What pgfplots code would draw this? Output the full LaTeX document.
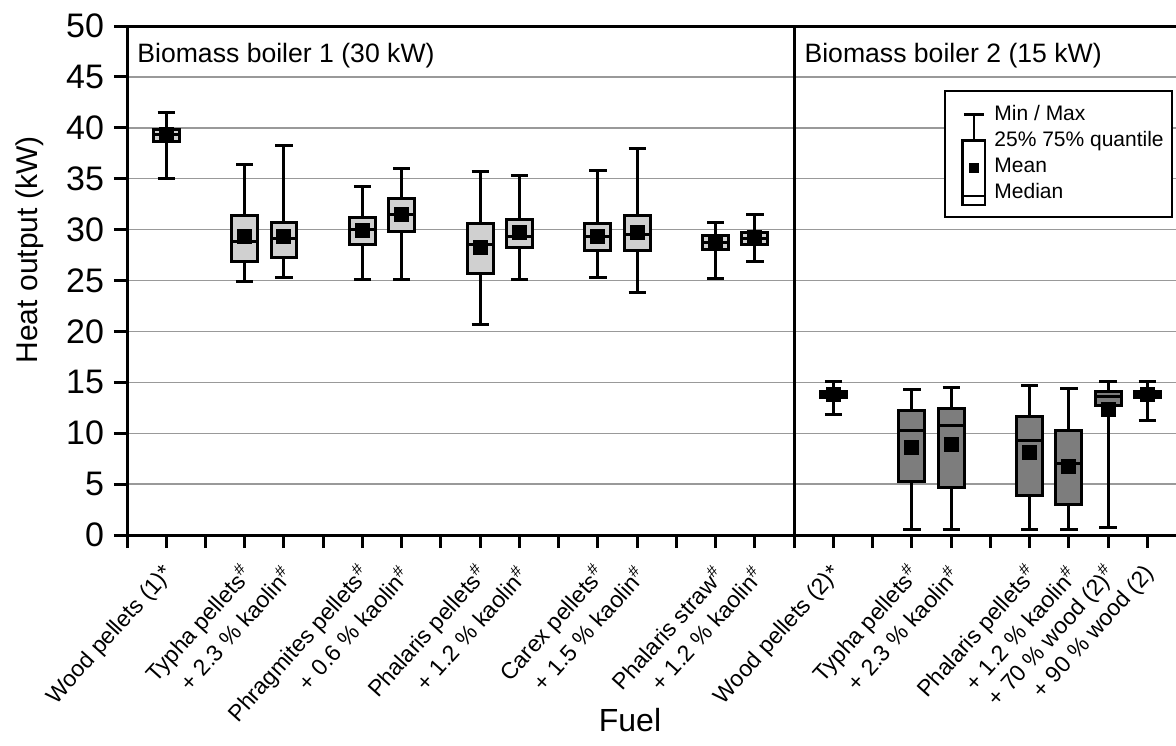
\documentclass[border=0pt]{standalone}
\usepackage{pgfplots}
\pgfplotsset{compat=1.18}
\usepgfplotslibrary{statistics}
\usepackage{fontspec}
\setmainfont{Liberation Sans}
\definecolor{boxlight}{RGB}{208,208,208}
\definecolor{boxdark}{RGB}{125,125,125}
\newcommand{\sh}{\textsuperscript{\#}}
\pgfplotsset{
  lbox/.style={black, line width=1.5pt, forget plot,
    boxplot/every box/.style={fill=boxlight, draw=black},
    boxplot/every whisker/.style={black},
    boxplot/every median/.style={black}},
  dbox/.style={black, line width=1.5pt, forget plot,
    boxplot/every box/.style={fill=boxdark, draw=black},
    boxplot/every whisker/.style={black},
    boxplot/every median/.style={black}},
}
\begin{document}
\begin{tikzpicture}
\begin{axis}[
  at={(63.5pt,105pt)}, anchor=south west,
  scale only axis, width=524.5pt, height=254.5pt,
  xmin=0, xmax=26.73, ymin=0, ymax=50,
  axis x line=box, axis y line=left,
  axis line style={-, line width=1.5pt, black},
  xtick pos=left, ytick pos=left,
  tick align=outside, major tick length=6.5pt,
  tick style={black, line width=1.5pt},
  xtick={0,...,26},
  ytick={0,5,...,50},
  ymajorgrids, grid style={gray!80, line width=0.7pt},
  /pgf/number format/assume math mode=true,
  yticklabel style={xshift=-1.5pt, font=\fontsize{17}{19}\selectfont},
  xticklabel style={xshift=4pt, yshift=-8.5pt, rotate=48, anchor=east, font=\fontsize{11.5}{13}\selectfont},
  xticklabels={{},{Wood pellets (1)*},{},{Typha pellets\sh},{+ 2.3 \% kaolin\sh},{},
    {Phragmites pellets\sh},{+ 0.6 \% kaolin\sh},{},{Phalaris pellets\sh},{+ 1.2 \% kaolin\sh},{},
    {Carex pellets\sh},{+ 1.5 \% kaolin\sh},{},{Phalaris straw\sh},{+ 1.2 \% kaolin\sh},{},
    {Wood pellets (2)*},{},{Typha pellets\sh},{+ 2.3 \% kaolin\sh},{},
    {Phalaris pellets\sh},{+ 1.2 \% kaolin\sh},{+ 70 \% wood (2)\sh},{+ 90 \% wood (2)}},
  xlabel={Fuel}, ylabel={Heat output (kW)},
  xlabel style={at={(axis description cs:0.4795,-0.3635)}, anchor=center, font=\fontsize{16}{18}\selectfont},
  ylabel style={at={(axis description cs:-0.0925,0.56)}, anchor=center, rotate=0, font=\fontsize{15}{17}\selectfont},
  boxplot/draw direction=y,
  boxplot/box extend=0.66,
  boxplot/whisker extend=0.44,
  boxplot/every average/.style={/tikz/mark=square*, /tikz/mark size=3.0pt, fill=black, draw=black, line width=0.4pt},
  legend cell align=left,
  legend style={at={(axis description cs:1,1)}, anchor=north east, xshift=-1.65pt, yshift=-32pt,
    draw=black, line width=1pt, font=\fontsize{10.5}{12}\selectfont,
    inner xsep=2pt, inner ysep=5.5pt, row sep=0pt, column sep=0pt,
    nodes={inner xsep=2pt, inner ysep=1.5pt, text height=7.6pt, text depth=2.4pt}},
]
% legend (schematic box plot)
\addlegendimage{legend image code/.code={
  \path[draw=none, fill=none] (0pt,-3pt) rectangle (20.5pt,3pt);
  \begin{scope}[overlay, black, line width=1.2pt]
    \draw (7.2pt,0.35pt) -- (17.2pt,0.35pt);
    \draw (12.2pt,0.35pt) -- (12.2pt,-12.65pt);
    \draw (6.5pt,-12.65pt) rectangle (17.9pt,-45pt);
    \draw (6.5pt,-40.5pt) -- (17.9pt,-40.5pt);
    \fill (10.2pt,-28.5pt) rectangle (14.2pt,-24.5pt);
  \end{scope}
}}
\addlegendentry{Min / Max}
\addlegendimage{legend image code/.code={\path[draw=none, fill=none] (0pt,0pt) rectangle (20.5pt,0pt);}}
\addlegendentry{25\% 75\% quantile}
\addlegendimage{legend image code/.code={\path[draw=none, fill=none] (0pt,0pt) rectangle (20.5pt,0pt);}}
\addlegendentry{Mean}
\addlegendimage{legend image code/.code={\path[draw=none, fill=none] (0pt,0pt) rectangle (20.5pt,0pt);}}
\addlegendentry{Median}

% divider between the two boilers
\addplot[black, line width=1.5pt, forget plot] coordinates {(17,0) (17,50)};

% Biomass boiler 1 (30 kW)
\addplot[lbox, boxplot prepared={draw position=1, lower whisker=35.0, lower quartile=38.7, median=39.3, upper quartile=39.8, upper whisker=41.5, average=39.3}] coordinates {};
\addplot[lbox, boxplot prepared={draw position=3, lower whisker=24.9, lower quartile=26.9, median=28.8, upper quartile=31.4, upper whisker=36.4, average=29.3}] coordinates {};
\addplot[lbox, boxplot prepared={draw position=4, lower whisker=25.3, lower quartile=27.3, median=29.1, upper quartile=30.7, upper whisker=38.3, average=29.3}] coordinates {};
\addplot[lbox, boxplot prepared={draw position=6, lower whisker=25.1, lower quartile=28.5, median=30.0, upper quartile=31.2, upper whisker=34.2, average=29.9}] coordinates {};
\addplot[lbox, boxplot prepared={draw position=7, lower whisker=25.1, lower quartile=29.8, median=31.5, upper quartile=33.1, upper whisker=36.0, average=31.5}] coordinates {};
\addplot[lbox, boxplot prepared={draw position=9, lower whisker=20.7, lower quartile=25.7, median=28.5, upper quartile=30.6, upper whisker=35.7, average=28.2}] coordinates {};
\addplot[lbox, boxplot prepared={draw position=10, lower whisker=25.1, lower quartile=28.2, median=29.3, upper quartile=31.0, upper whisker=35.3, average=29.7}] coordinates {};
\addplot[lbox, boxplot prepared={draw position=12, lower whisker=25.25, lower quartile=27.9, median=29.3, upper quartile=30.6, upper whisker=35.8, average=29.3}] coordinates {};
\addplot[lbox, boxplot prepared={draw position=13, lower whisker=23.8, lower quartile=27.9, median=29.55, upper quartile=31.4, upper whisker=38.0, average=29.75}] coordinates {};
\addplot[lbox, boxplot prepared={draw position=15, lower whisker=25.2, lower quartile=28.05, median=28.7, upper quartile=29.45, upper whisker=30.7, average=28.8}] coordinates {};
\addplot[lbox, boxplot prepared={draw position=16, lower whisker=26.9, lower quartile=28.5, median=29.1, upper quartile=29.7, upper whisker=31.45, average=29.2}] coordinates {};

% Biomass boiler 2 (15 kW)
\addplot[dbox, boxplot prepared={draw position=18, lower whisker=11.8, lower quartile=13.5, median=13.8, upper quartile=14.1, upper whisker=15.1, average=13.8}] coordinates {};
\addplot[dbox, boxplot prepared={draw position=20, lower whisker=0.56, lower quartile=5.3, median=10.3, upper quartile=12.2, upper whisker=14.3, average=8.6}] coordinates {};
\addplot[dbox, boxplot prepared={draw position=21, lower whisker=0.56, lower quartile=4.7, median=10.8, upper quartile=12.4, upper whisker=14.5, average=8.9}] coordinates {};
\addplot[dbox, boxplot prepared={draw position=23, lower whisker=0.56, lower quartile=3.9, median=9.3, upper quartile=11.6, upper whisker=14.65, average=8.1}] coordinates {};
\addplot[dbox, boxplot prepared={draw position=24, lower whisker=0.56, lower quartile=3.0, median=7.0, upper quartile=10.3, upper whisker=14.4, average=6.7}] coordinates {};
\addplot[dbox, boxplot prepared={draw position=25, lower whisker=0.7, lower quartile=12.7, median=13.6, upper quartile=14.06, upper whisker=15.1, average=12.3}] coordinates {};
\addplot[dbox, boxplot prepared={draw position=26, lower whisker=11.2, lower quartile=13.5, median=13.8, upper quartile=14.1, upper whisker=15.1, average=13.8}] coordinates {};

\node[anchor=west, inner sep=0pt, xshift=5pt, yshift=-15pt, font=\fontsize{13.3}{15}\selectfont] at (axis cs:0,50) {Biomass boiler 1 (30 kW)};
\node[anchor=west, inner sep=0pt, xshift=5pt, yshift=-15pt, font=\fontsize{13.3}{15}\selectfont] at (axis cs:17,50) {Biomass boiler 2 (15 kW)};
\end{axis}
\pgfresetboundingbox
\useasboundingbox (0,0) rectangle (588pt,372.5pt);
\end{tikzpicture}
\end{document}
